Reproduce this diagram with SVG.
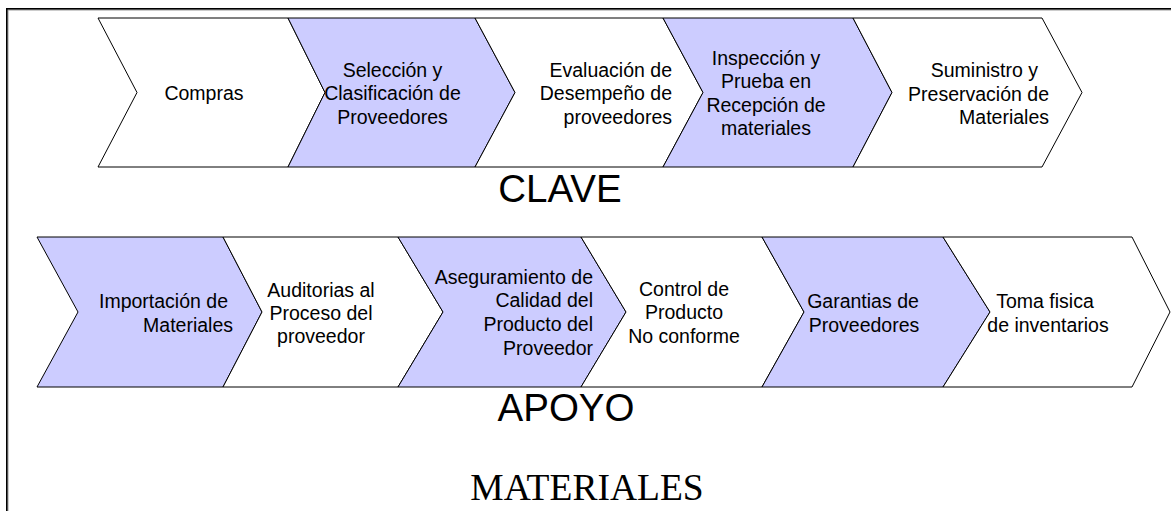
<svg xmlns="http://www.w3.org/2000/svg" width="1171" height="511" viewBox="0 0 1171 511">
<style>
.chev{stroke:#000;stroke-width:1;stroke-linejoin:miter}
.w{fill:#fff}
.p{fill:#ccccff}
.t{font-family:"Liberation Sans",Arial,sans-serif;font-size:19.5px;fill:#000}
.c{text-anchor:middle}
.e{text-anchor:end}
.big{font-family:"Liberation Sans",Arial,sans-serif;font-size:38.5px;fill:#000;text-anchor:middle}
.ser{font-family:"Liberation Serif","Times New Roman",serif;font-size:37.5px;fill:#000;text-anchor:middle}
</style>
<rect x="0" y="0" width="1171" height="511" fill="#fff"/>
<rect x="8" y="10" width="1200" height="600" fill="none" stroke="#999" stroke-width="1"/>
<rect x="6.8" y="8.8" width="1200" height="600" fill="none" stroke="#000" stroke-width="1.6"/>

<g id="clave-row">
<g id="n-compras"><polygon class="chev w" points="98,18 288,18 325,92.5 288,167 98,167 137,92.5"/>
<text class="t c" x="204" y="100">Compras</text></g>
<g id="n-seleccion"><polygon class="chev p" points="288,18 475,18 515,92.5 475,167 288,167 325,92.5"/>
<text class="t c" x="392.5"><tspan x="392.5" y="77">Selección y</tspan><tspan x="392.5" y="100.3">Clasificación de</tspan><tspan x="392.5" y="123.6">Proveedores</tspan></text></g>
<g id="n-evaluacion"><polygon class="chev w" points="475,18 663,18 703,92.5 663,167 475,167 515,92.5"/>
<text class="t e"><tspan x="672" y="77">Evaluación de</tspan><tspan x="672" y="100.3">Desempeño de</tspan><tspan x="672" y="123.6">proveedores</tspan></text></g>
<g id="n-inspeccion"><polygon class="chev p" points="663,18 853,18 892,92.5 853,167 663,167 703,92.5"/>
<text class="t c"><tspan x="766" y="65">Inspección y</tspan><tspan x="766" y="88.3">Prueba en</tspan><tspan x="766" y="111.6">Recepción de</tspan><tspan x="766" y="134.9">materiales</tspan></text></g>
<g id="n-suministro"><polygon class="chev w" points="853,18 1042,18 1082,92.5 1042,167 853,167 892,92.5"/>
<text class="t e"><tspan x="1038" y="77.3">Suministro y</tspan><tspan x="1049" y="100.6">Preservación de</tspan><tspan x="1049" y="123.9">Materiales</tspan></text></g>
</g>
<text id="lbl-clave" class="big" x="560" y="202">CLAVE</text>

<g id="apoyo-row">
<g id="n-importacion"><polygon class="chev p" points="37,237 223,237 262,312 223,387 37,387 78,312"/>
<text class="t e"><tspan x="228" y="308.3">Importación de</tspan><tspan x="233" y="331.6">Materiales</tspan></text></g>
<g id="n-auditorias"><polygon class="chev w" points="223,237 398,237 443,312 398,387 223,387 262,312"/>
<text class="t c"><tspan x="321" y="296.7">Auditorias al</tspan><tspan x="321" y="320">Proceso del</tspan><tspan x="321" y="343.3">proveedor</tspan></text></g>
<g id="n-aseguramiento"><polygon class="chev p" points="398,237 581,237 626,312 581,387 398,387 443,312"/>
<text class="t e"><tspan x="593" y="283.5">Aseguramiento de</tspan><tspan x="593" y="307.2">Calidad del</tspan><tspan x="593" y="330.9">Producto del</tspan><tspan x="593" y="354.6">Proveedor</tspan></text></g>
<g id="n-control"><polygon class="chev w" points="581,237 762,237 804,312 762,387 581,387 626,312"/>
<text class="t c"><tspan x="684" y="296">Control de</tspan><tspan x="684" y="319.4">Producto</tspan><tspan x="684" y="342.8">No conforme</tspan></text></g>
<g id="n-garantias"><polygon class="chev p" points="762,237 943,237 990,312 943,387 762,387 804,312"/>
<text class="t c"><tspan x="863" y="308.3">Garantias de</tspan><tspan x="864" y="331.6">Proveedores</tspan></text></g>
<g id="n-toma"><polygon class="chev w" points="943,237 1132,237 1170,312 1132,387 943,387 990,312"/>
<text class="t c"><tspan x="1045" y="308.3">Toma fisica</tspan><tspan x="1048" y="331.6">de inventarios</tspan></text></g>
</g>
<text id="lbl-apoyo" class="big" x="566" y="421">APOYO</text>
<text id="lbl-materiales" class="ser" x="587" y="500">MATERIALES</text>
<g id="connectors"/>
</svg>
